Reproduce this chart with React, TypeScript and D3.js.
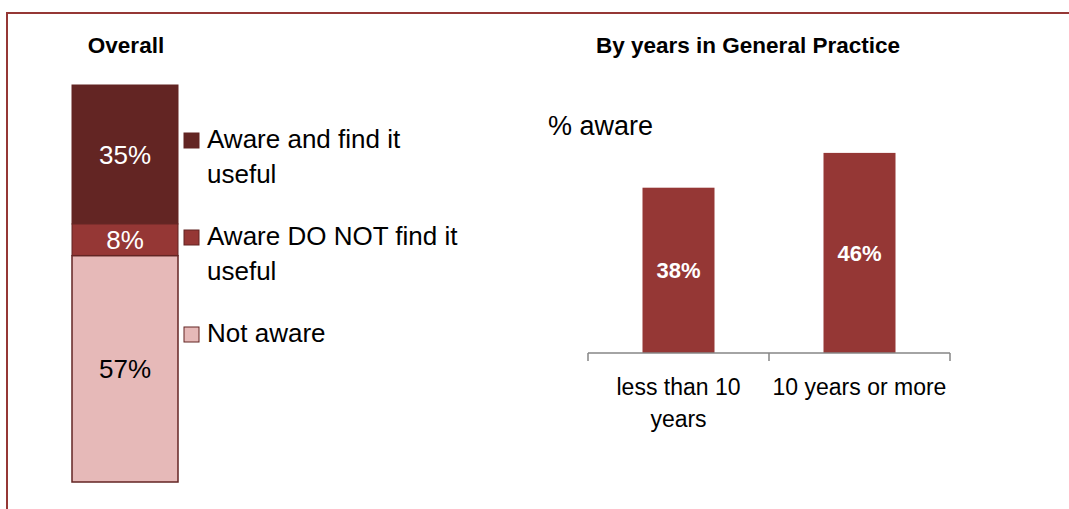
import React from "react";
import * as d3 from "d3";

const overallKeys = ["useful", "notUseful", "notAware"];
const overallValues = [0.35, 0.08, 0.57];
const overallLabels = ["35%", "8%", "57%"];
const legendLines = [["Aware and find it", "useful"], ["Aware DO NOT find it", "useful"], ["Not aware"]];
const segColors = ["#632523", "#953735", "#E6B9B8"];
const segTextColors = ["#ffffff", "#ffffff", "#000000"];

const yearCategories = ["less than 10 years", "10 years or more"];
const yearCatLines = [["less than 10", "years"], ["10 years or more"]];
const yearValues = [0.38, 0.46];
const yearLabels = ["38%", "46%"];

const FONT = "'Liberation Sans', Arial, sans-serif";

export default function App() {
  // Overall stacked bar (first series on top)
  const row: any = {};
  overallKeys.forEach((k, i) => (row[k] = overallValues[i]));
  const series = d3.stack().keys(overallKeys)([row]);
  const yS = d3.scaleLinear().domain([0, 1]).range([85, 482]);
  const xS0 = 72, wS = 106;

  // Right chart
  const xB = d3.scaleBand().domain(yearCategories).range([588, 950]).paddingInner(0).paddingOuter(0);
  const yB = d3.scaleLinear().domain([0, 0.5]).range([353, 353 - 217.5]);
  const barW = 72;

  const legendBase = [148, 245, 342];

  return (
    <svg width={1069} height={509} style={{ position: "absolute", left: 0, top: 0, fontFamily: FONT }}>
      <rect x={0} y={0} width={1069} height={509} fill="#fff" />
      <line x1={6} x2={1069} y1={13} y2={13} stroke="#953735" strokeWidth={2} />
      <line x1={7} x2={7} y1={12} y2={509} stroke="#953735" strokeWidth={2} />

      <text x={126} y={53} textAnchor="middle" fontWeight="bold" fontSize={22.5} fill="#000">Overall</text>
      <text x={748} y={53} textAnchor="middle" fontWeight="bold" fontSize={22.5} fill="#000">By years in General Practice</text>

      {series.map((s, i) => {
        const d = s[0];
        const y0 = yS(d[0]);
        const y1 = yS(d[1]);
        return (
          <g key={i}>
            <rect x={xS0} y={y0} width={wS} height={y1 - y0} fill={segColors[i]} stroke="#632523" strokeWidth={i === 2 ? 1.5 : 1} />
            <text x={xS0 + wS / 2} y={(y0 + y1) / 2} dy="0.36em" textAnchor="middle" fontSize={26} fill={segTextColors[i]}>{overallLabels[i]}</text>
          </g>
        );
      })}

      {legendLines.map((lines, i) => (
        <g key={i}>
          <rect x={184} y={legendBase[i] - 15} width={15} height={15} fill={segColors[i]} stroke="#632523" strokeWidth={1} />
          {lines.map((t, j) => (
            <text key={j} x={207} y={legendBase[i] + j * 35} fontSize={26} fill="#000">{t}</text>
          ))}
        </g>
      ))}

      <text x={548} y={135} fontSize={27} fill="#000">% aware</text>

      {yearCategories.map((c, i) => {
        const cx = (xB(c) as number) + xB.bandwidth() / 2;
        const y0 = yB(yearValues[i]);
        const y1 = yB(0);
        return (
          <g key={c}>
            <rect x={cx - barW / 2} y={y0} width={barW} height={y1 - y0} fill="#953735" />
            <text x={cx} y={(y0 + y1) / 2} dy="0.36em" textAnchor="middle" fontWeight="bold" fontSize={22} fill="#fff">{yearLabels[i]}</text>
            {yearCatLines[i].map((t, j) => (
              <text key={j} x={cx} y={395 + j * 32} textAnchor="middle" fontSize={23} fill="#000">{t}</text>
            ))}
          </g>
        );
      })}
      <line x1={588} x2={950} y1={353} y2={353} stroke="#868686" strokeWidth={1.5} />
      {[588, ...yearCategories.map((c) => (xB(c) as number) + xB.bandwidth())].map((x, i) => (
        <line key={i} x1={x} x2={x} y1={353} y2={361} stroke="#868686" strokeWidth={1.5} />
      ))}
    </svg>
  );
}
